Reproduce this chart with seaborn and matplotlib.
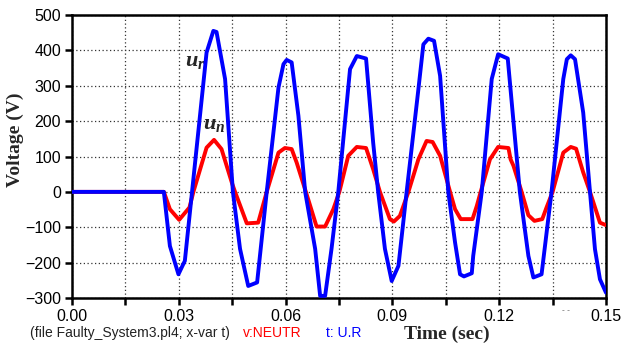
import numpy as np
import pandas as pd
import matplotlib
matplotlib.use("Agg")
import matplotlib.pyplot as plt
import matplotlib.ticker as mticker
import seaborn as sns

# u_r (t: U.R) - blue trace
t_ur = [0.0, 0.0258, 0.0275, 0.0299, 0.0317, 0.0378, 0.0397, 0.0406, 0.0430, 0.0452,
        0.0472, 0.0495, 0.0520, 0.0547, 0.0580, 0.0594, 0.0603, 0.0617, 0.0636, 0.0655,
        0.0683, 0.0697, 0.0711, 0.0729, 0.0748, 0.0781, 0.0800, 0.0826, 0.0846, 0.0860,
        0.0879, 0.0898, 0.0917, 0.0940, 0.0973, 0.0987, 0.1001, 0.1017, 0.1034, 0.1057,
        0.1076, 0.1090, 0.1101, 0.1123, 0.1127, 0.1151, 0.1179, 0.1197, 0.1224, 0.1258,
        0.1282, 0.1296, 0.1319, 0.1347, 0.1380, 0.1390, 0.1401, 0.1413, 0.1436, 0.1455,
        0.1469, 0.1483, 0.1500]
v_ur = [0, 0, -153, -233, -195, 394, 455, 452, 319, 0,
        -161, -266, -256, 0, 295, 361, 373, 366, 215, 0,
        -161, -294, -294, -161, 0, 347, 384, 377, 139, 0,
        -161, -252, -209, 0, 290, 417, 433, 427, 328, 0,
        -143, -233, -239, -230, -181, 0, 319, 389, 377, 0,
        -181, -242, -233, 0, 319, 375, 386, 375, 224, 0,
        -162, -247, -285]

# u_n (v:NEUTR) - red trace
t_un = [0.0, 0.0258, 0.0275, 0.0301, 0.0330, 0.0341, 0.0378, 0.0399, 0.0420, 0.0449,
        0.0458, 0.0491, 0.0523, 0.0547, 0.0580, 0.0598, 0.0617, 0.0631, 0.0657, 0.0687,
        0.0711, 0.0734, 0.0751, 0.0776, 0.0800, 0.0826, 0.0846, 0.0865, 0.0893, 0.0904,
        0.0921, 0.0945, 0.0973, 0.0996, 0.1013, 0.1034, 0.1062, 0.1076, 0.1092, 0.1125,
        0.1137, 0.1148, 0.1174, 0.1197, 0.1226, 0.1232, 0.1240, 0.1263, 0.1282, 0.1299,
        0.1321, 0.1333, 0.1350, 0.1380, 0.1401, 0.1416, 0.1436, 0.1455, 0.1483, 0.1500]
v_un = [0, 0, -49, -79, -44, 0, 125, 147, 121, 26,
        0, -89, -87, 0, 111, 124, 121, 83, 0, -98,
        -98, -49, 0, 102, 127, 124, 64, 0, -77, -84,
        -68, 0, 92, 144, 141, 102, 0, -49, -77, -77,
        -40, 0, 92, 127, 124, 92, 74, 0, -66, -82,
        -77, -44, 0, 111, 127, 122, 55, 0, -87, -94]

x_ticks = [0.00, 0.03, 0.06, 0.09, 0.12, 0.15]
y_ticks = [-300, -200, -100, 0, 100, 200, 300, 400, 500]

sns.set_style("white")
plt.rcParams['font.family'] = ['Liberation Sans', 'DejaVu Sans']
plt.rcParams['mathtext.fontset'] = 'custom'
plt.rcParams['mathtext.it'] = 'Liberation Serif:italic:bold'
plt.rcParams['mathtext.rm'] = 'Liberation Serif:bold'

fig = plt.figure(figsize=(6.23, 3.51), dpi=100)
ax = fig.add_axes([72/623, 1-298/351, (606-72)/623, (298-15)/351])

df_un = pd.DataFrame({"t": t_un, "v": v_un})
df_ur = pd.DataFrame({"t": t_ur, "v": v_ur})
sns.lineplot(data=df_un, x="t", y="v", color="#ff0000", linewidth=2.8, ax=ax, zorder=3)
sns.lineplot(data=df_ur, x="t", y="v", color="#0000ff", linewidth=2.8, ax=ax, zorder=4)

ax.set_xlim(0, 0.15)
ax.set_ylim(-300, 500)
ax.set_xticks(x_ticks)
ax.xaxis.set_minor_locator(mticker.MultipleLocator(0.015))
ax.xaxis.set_major_formatter(mticker.FormatStrFormatter('%.2f'))
ax.set_yticks(y_ticks)

ax.grid(True, which='both', axis='x', color='#333333', linestyle=(0, (1, 2)), linewidth=0.9)
ax.grid(True, which='major', axis='y', color='#333333', linestyle=(0, (1, 2)), linewidth=0.9)

for s in ax.spines.values():
    s.set_linewidth(1.8)
    s.set_color('black')

ax.tick_params(axis='both', which='both', direction='out', length=5, width=1.8,
               labelsize=11.5, colors='black', pad=3)
ax.tick_params(axis='x', which='minor', length=5, width=1.8)
ax.xaxis.set_ticks_position('bottom')
ax.yaxis.set_ticks_position('left')

ax.set_xlabel("")
ax.set_ylabel("")

fig.text(15/623, 1-140/351, "Voltage (V)", rotation=90, ha='center', va='center',
         fontsize=14, fontweight='bold', family=['Liberation Serif', 'DejaVu Serif'])
fig.text(447/623, 1-334/351, "Time (sec)", ha='center', va='center',
         fontsize=14, fontweight='bold', family=['Liberation Serif', 'DejaVu Serif'])

ax.text(0.0345, 372, r"$u_r$", fontsize=16, ha='center', va='center')
ax.text(0.0400, 192, r"$u_n$", fontsize=16, ha='center', va='center')

fig.text(30/623, 1-333/351, "(file Faulty_System3.pl4; x-var t)", ha='left', va='center',
         fontsize=10, color='#222222')
fig.text(243/623, 1-333/351, "v:NEUTR", ha='left', va='center', fontsize=10, color='#ff0000')
fig.text(326/623, 1-333/351, "t: U.R", ha='left', va='center', fontsize=10, color='#0000ff')
fig.text(566/623, 1-311/351, "- -", ha='center', va='center', fontsize=6, color='#555555')

fig.savefig("out.png", dpi=100)
